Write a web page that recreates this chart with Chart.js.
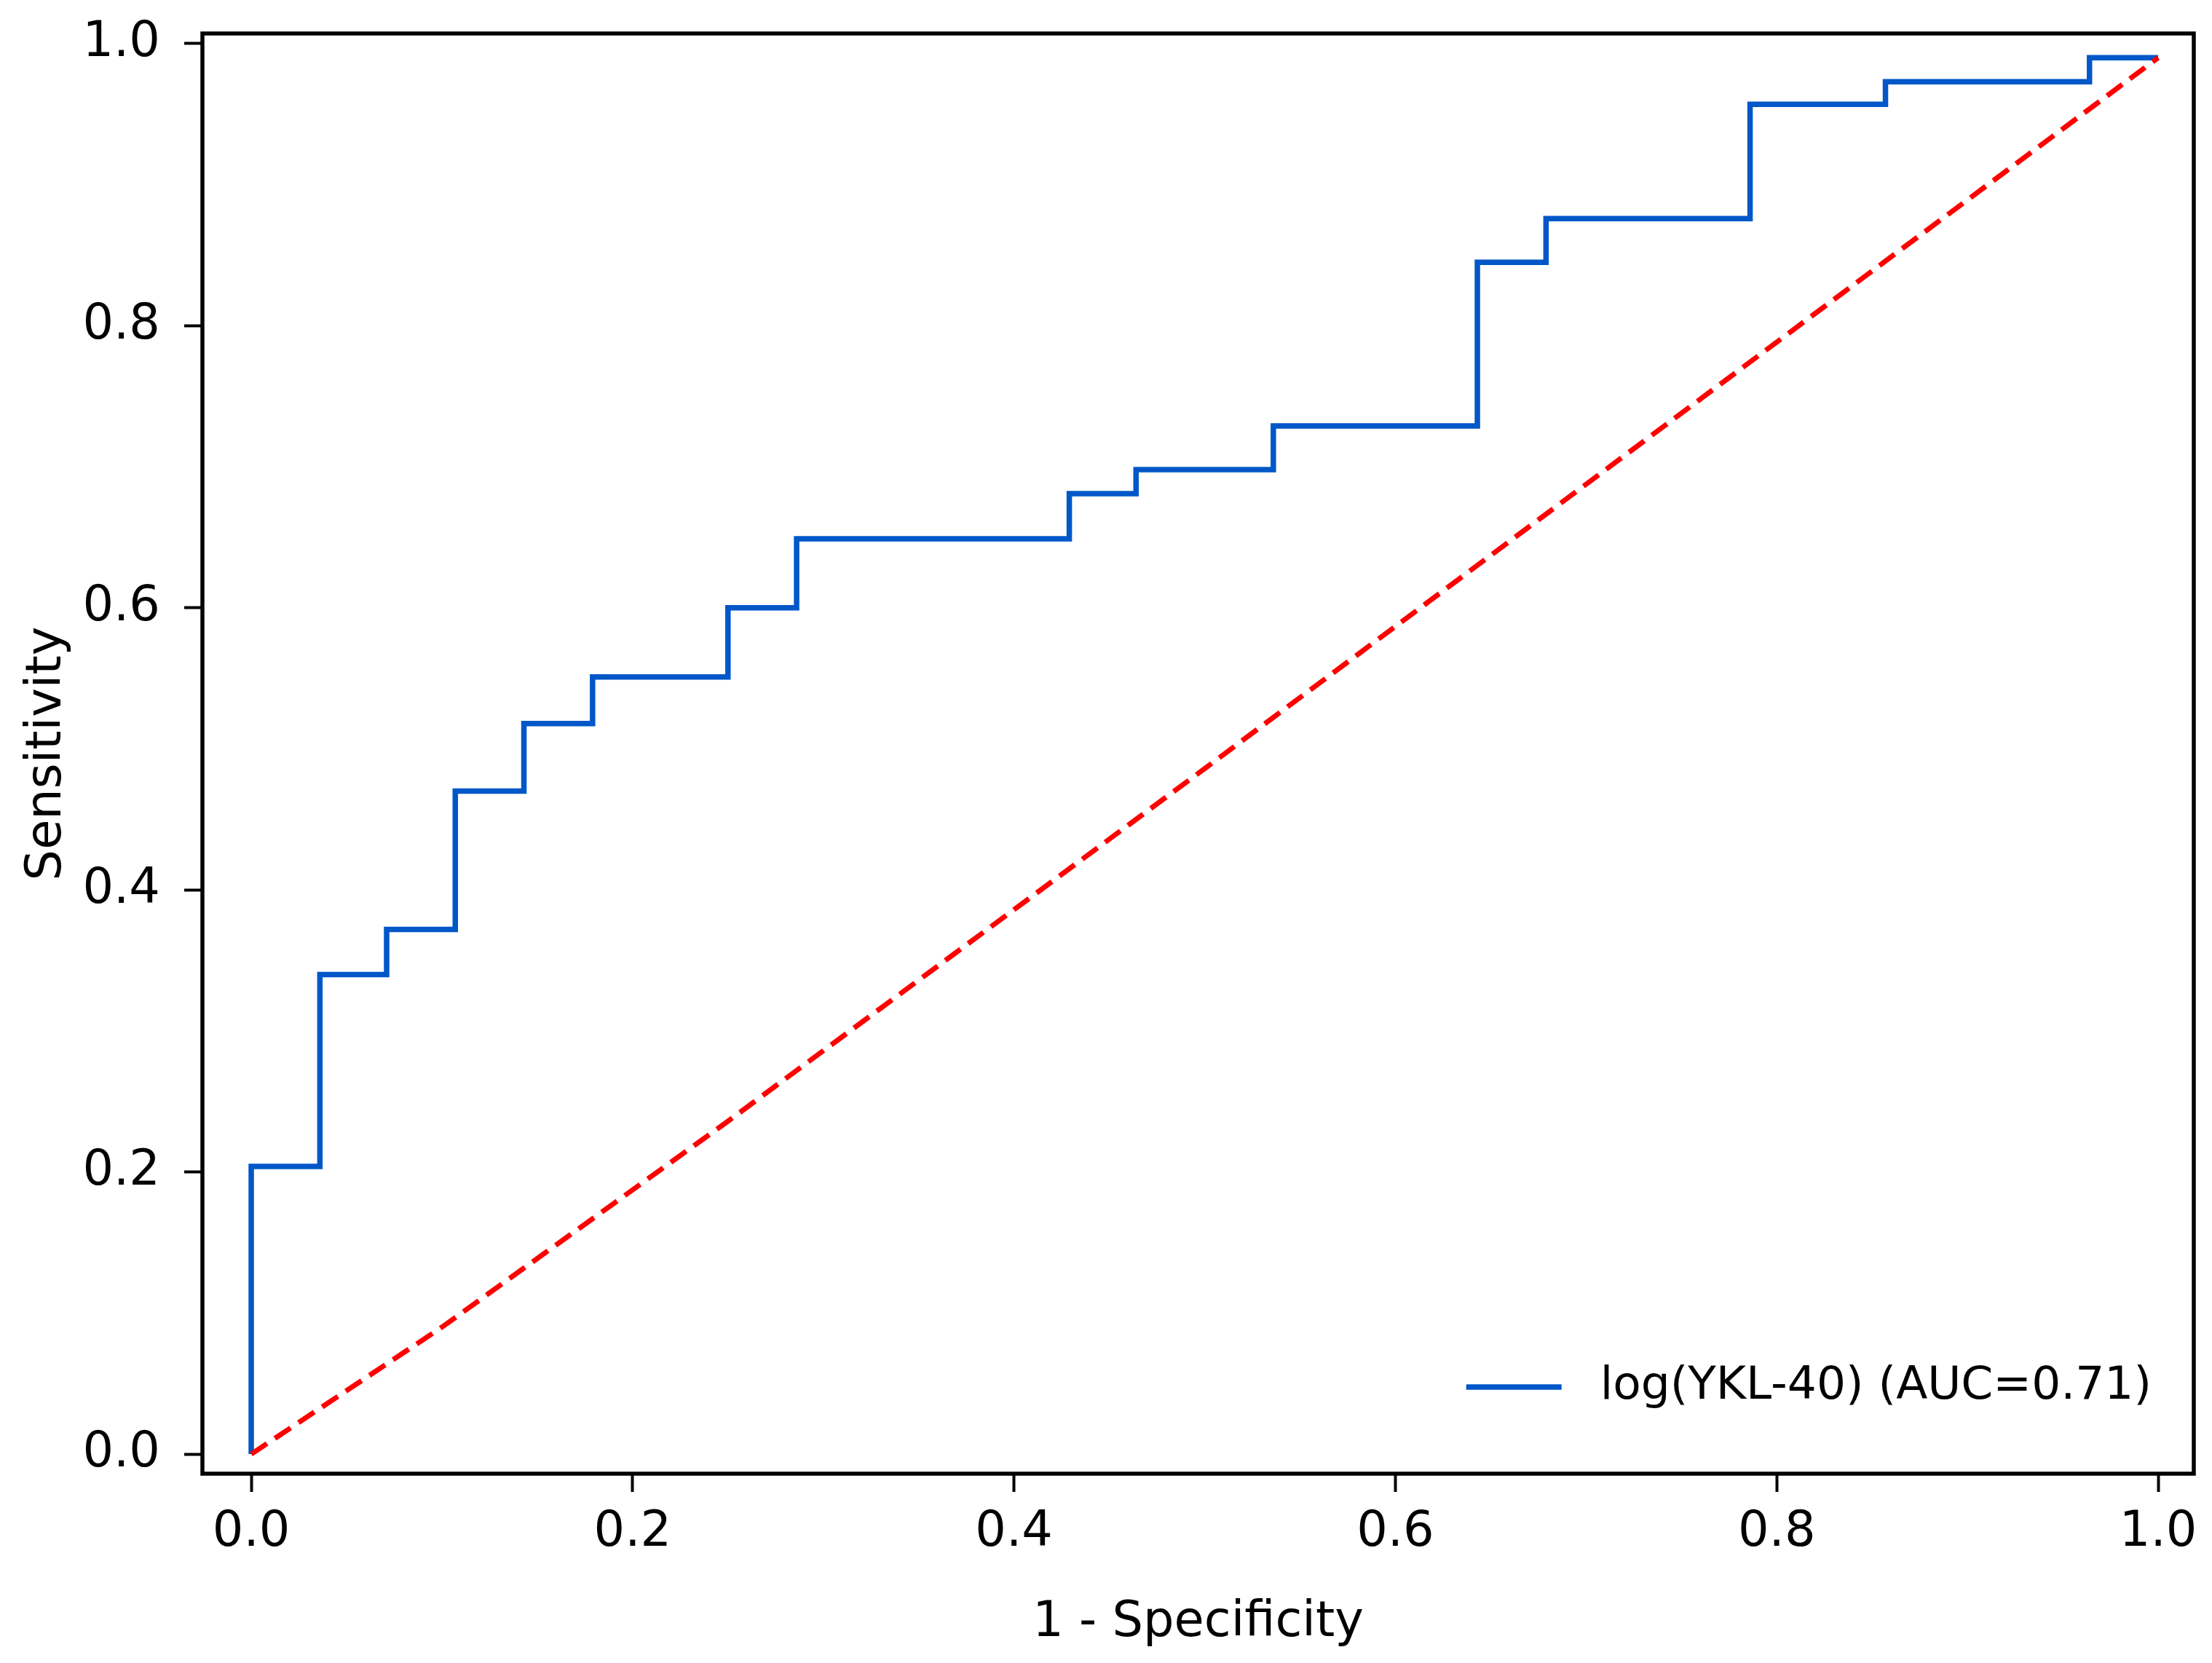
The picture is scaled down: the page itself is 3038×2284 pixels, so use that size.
<!DOCTYPE html>
<html>
<head>
<meta charset="utf-8">
<script src="https://cdn.jsdelivr.net/npm/chart.js@4.4.1/dist/chart.umd.min.js"></script>
<style>
  html, body { margin: 0; padding: 0; background: #fff; }
  canvas { display: block; }
</style>
</head>
<body>
<canvas id="roc" width="3038" height="2284"></canvas>
<script>
// ROC curve of log(YKL-40)
var fpr = [0, 0, 0.036, 0.071, 0.107, 0.143, 0.179, 0.250, 0.286, 0.429, 0.464, 0.536, 0.643, 0.679, 0.786, 0.857, 0.964, 1.000];
var tpr = [0, 0.204, 0.340, 0.372, 0.470, 0.518, 0.551, 0.600, 0.649, 0.681, 0.698, 0.729, 0.845, 0.876, 0.957, 0.973, 0.990, 0.990];
// chance line (red, dashed)
var refX = [0, 0.1, 0.25, 0.5, 1.0];
var refY = [0, 0.090, 0.236, 0.486, 0.990];
var xTicks = [0.0, 0.2, 0.4, 0.6, 0.8, 1.0];
var yTicks = [0.0, 0.2, 0.4, 0.6, 0.8, 1.0];
var curveLabel = 'log(YKL-40) (AUC=0.71)';
var xTitle = '1 - Specificity';
var yTitle = 'Sensitivity';

function pairs(xs, ys) {
    return xs.map(function (x, i) { return { x: x, y: ys[i] }; });
}

Chart.defaults.font.family = '"DejaVu Sans", sans-serif';
Chart.defaults.color = '#000';

var whiteBg = {
    id: 'whiteBg',
    beforeDraw: function (chart) {
        var ctx = chart.ctx;
        ctx.save();
        ctx.fillStyle = '#fff';
        ctx.fillRect(0, 0, chart.width, chart.height);
        ctx.restore();
    }
};

// axes box and a matplotlib-like legend in the lower right corner
var frameAndLegend = {
    id: 'frameAndLegend',
    afterDraw: function (chart) {
        var ctx = chart.ctx, a = chart.chartArea;
        ctx.save();
        ctx.strokeStyle = '#000';
        ctx.lineWidth = 5.5;
        ctx.strokeRect(a.left, a.top, a.right - a.left, a.bottom - a.top);

        var ds = chart.data.datasets[0];
        ctx.font = '63px "DejaVu Sans", sans-serif';
        var tw = ctx.measureText(ds.label).width;
        var textRight = a.right - 58;
        var textLeft = textRight - tw;
        var y = a.bottom - 119;
        ctx.strokeStyle = ds.borderColor;
        ctx.lineWidth = ds.borderWidth;
        ctx.beginPath();
        ctx.moveTo(textLeft - 184, y);
        ctx.lineTo(textLeft - 53, y);
        ctx.stroke();
        ctx.fillStyle = '#000';
        ctx.textBaseline = 'middle';
        ctx.textAlign = 'left';
        ctx.fillText(ds.label, textLeft, y);
        ctx.restore();
    }
};

function axisOpts(min, max, ticks, title, pad, titlePad) {
    return {
        type: 'linear',
        min: min,
        max: max,
        afterBuildTicks: function (scale) {
            scale.ticks = ticks.map(function (v) { return { value: v }; });
        },
        border: { display: false },
        grid: {
            drawOnChartArea: false,
            drawTicks: true,
            tickLength: 25,
            tickWidth: 4,
            tickColor: '#000'
        },
        ticks: {
            autoSkip: false,
            padding: pad,
            color: '#000',
            font: { size: 67 },
            callback: function (v) { return Number(v).toFixed(1); }
        },
        title: {
            display: true,
            text: title,
            color: '#000',
            font: { size: 67, lineHeight: 1.2 },
            padding: titlePad
        }
    };
}

var xAxis = axisOpts(-0.0256, 1.0187, xTicks, xTitle, 16, { top: 0, bottom: 14 });
xAxis.afterFit = function (scale) { scale.height = 260; };
var yAxis = axisOpts(-0.0139, 1.0072, yTicks, yTitle, 33, { top: 25, bottom: 0 });
yAxis.afterFit = function (scale) {
    scale.width = 278;
    scale.paddingTop = 0;
    scale.paddingBottom = 0;
};

new Chart(document.getElementById('roc'), {
    type: 'scatter',
    data: {
        datasets: [
            {
                label: curveLabel,
                data: pairs(fpr, tpr),
                showLine: true,
                stepped: true,
                borderColor: '#0057c8',
                borderWidth: 7.5,
                pointRadius: 0,
                fill: false,
                order: 1
            },
            {
                label: 'chance',
                data: pairs(refX, refY),
                showLine: true,
                borderColor: '#ff0000',
                borderWidth: 7,
                borderDash: [26, 13],
                pointRadius: 0,
                fill: false,
                order: 0
            }
        ]
    },
    options: {
        responsive: false,
        animation: false,
        devicePixelRatio: 1,
        layout: { padding: { top: 46, right: 25, left: 0, bottom: 0 } },
        plugins: {
            legend: { display: false },
            tooltip: { enabled: false }
        },
        scales: { x: xAxis, y: yAxis }
    },
    plugins: [whiteBg, frameAndLegend]
});
</script>
</body>
</html>
